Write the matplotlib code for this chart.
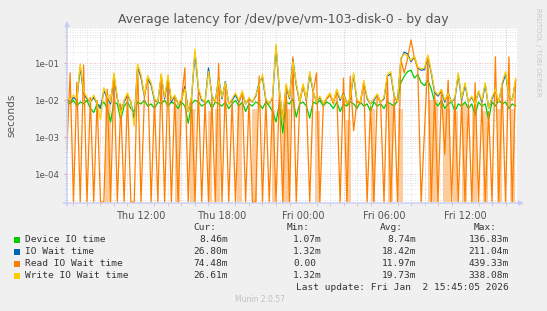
import numpy as np
from matplotlib import pyplot as plt
from matplotlib.patches import Rectangle
from matplotlib.ticker import FixedLocator, NullFormatter

W, H = 547, 311

# --- data (values in ms, one sample every 15 min from Thu 06:30) ---
start_hour = 6.5
step_hour = 0.25

device = [9, 8, 10, 7, 9, 8, 10, 6, 4.7, 8,
          7, 9, 6, 2.6, 9, 8, 3, 7, 9, 6,
          5, 9, 8, 10, 7, 8, 6, 9, 8, 10,
          7, 9, 8, 6, 9, 7, 2.4, 8, 10, 9,
          7, 8, 10, 6, 9, 8, 7, 9, 6, 8,
          10, 7, 9, 5, 8, 7, 9, 8, 6, 9,
          7, 5, 2.6, 8, 1.3, 9, 8, 11, 3.5, 8,
          9, 7, 3.3, 9, 8, 10, 7, 9, 8, 6,
          9, 5, 8, 7, 9, 8, 6, 9, 7, 8,
          5, 9, 7, 8, 6, 9, 8, 7, 10, 30,
          45, 60, 65, 40, 50, 30, 25, 35, 20, 9,
          7, 10, 6, 8, 9, 5, 8, 7, 9, 6,
          8, 4, 9, 7, 8, 3, 9, 7, 10, 8,
          9, 6, 8, 7]

iowait = [11, 9, 12, 10, 80, 15, 11, 9, 12, 8,
          6, 18, 12, 8, 45, 11, 5, 9, 14, 9,
          3, 80, 42, 13, 38, 26, 10, 9, 45, 11,
          40, 9, 13, 8, 10, 24, 5, 12, 200, 20,
          10, 9, 75, 13, 9, 40, 11, 32, 8, 10,
          14, 9, 16, 8, 11, 9, 13, 30, 42, 10,
          8, 12, 280, 18, 3, 24, 11, 130, 26, 9,
          25, 10, 52, 17, 9, 12, 8, 11, 14, 9,
          18, 10, 16, 8, 11, 48, 9, 9, 30, 11,
          8, 10, 14, 9, 11, 45, 52, 13, 9, 130,
          200, 180, 110, 150, 75, 65, 68, 150, 55, 16,
          13, 18, 9, 16, 9, 11, 48, 10, 26, 9,
          12, 8, 17, 9, 27, 6, 11, 18, 9, 26,
          52, 13, 10, 35]

read = [0.4, 55, 0, 31, 0, 90, 0, 12, 0, 10,
        0, 0, 20, 0, 50, 0, 8, 0, 14, 0,
        0, 90, 0, 12, 45, 0, 10, 0, 50, 0,
        45, 0, 12, 0, 10, 75, 0, 12, 0, 20,
        0, 10, 0, 12, 0, 100, 0, 25, 0, 10,
        0, 9, 16, 0, 11, 0, 0, 45, 0, 10,
        0, 12, 0, 18, 0, 25, 0, 150, 0, 8,
        25, 10, 0, 16, 55, 0, 7, 11, 14, 8,
        18, 0, 40, 0, 45, 1.5, 10, 8, 30, 0,
        7, 0, 14, 8, 0, 45, 0, 12, 0, 120,
        55, 140, 430, 140, 70, 0, 1.5, 150, 0, 15,
        0, 18, 0.35, 35, 0, 10, 0, 10, 0, 8,
        0, 30, 0, 9, 0, 5, 0, 150, 0, 25,
        0, 150, 0, 35]

write = [12, 10, 14, 11, 95, 18, 12, 9, 14, 8,
         3, 22, 13, 9, 55, 12, 4, 10, 16, 9,
         2, 95, 50, 14, 45, 30, 11, 9, 52, 12,
         48, 10, 14, 8, 11, 20, 5, 13, 240, 22,
         11, 9, 60, 14, 9, 35, 12, 30, 8, 11,
         16, 10, 18, 8, 12, 9, 14, 25, 50, 11,
         8, 13, 330, 20, 3, 28, 12, 110, 30, 9,
         28, 11, 60, 18, 9, 13, 8, 12, 16, 9,
         20, 11, 14, 8, 12, 55, 10, 9, 35, 12,
         8, 11, 15, 9, 12, 50, 60, 14, 9, 140,
         180, 150, 120, 160, 80, 70, 75, 170, 60, 18,
         14, 20, 10, 15, 9, 12, 55, 11, 30, 9,
         13, 8, 18, 10, 30, 6, 12, 20, 9, 30,
         60, 14, 10, 40]

# spans (hours) where the read line flickers to zero too fast to resolve
read_haze = [(9.33, 9.78), (14.52, 14.89), (15.63, 16.0), (16.96, 17.26),
             (17.48, 17.85), (19.11, 19.48), (20.22, 20.59), (21.70, 21.93),
             (22.44, 23.04), (24.89, 25.26), (27.19, 27.56), (29.04, 29.33),
             (30.30, 30.67), (31.04, 31.41), (33.26, 34.0), (34.37, 34.89),
             (35.11, 35.48), (35.78, 36.15), (36.52, 36.89), (37.33, 37.70),
             (38.37, 38.74), (39.33, 39.70)]
read_haze_top = [15, 8, 6, 5, 6, 8, 6, 5, 6, 5, 3, 6,
                 8, 6, 10, 6, 5, 8, 6, 5, 6, 6]

labels = ["Device IO time", "IO Wait time", "Read IO Wait time", "Write IO Wait time"]
colors = ["#00cc00", "#0066b3", "#ff8000", "#ffcc00"]
cur = ["8.46m", "26.80m", "74.48m", "26.61m"]
mins = ["1.07m", "1.32m", "0.00", "1.32m"]
avgs = ["8.74m", "18.42m", "11.97m", "19.73m"]
maxs = ["136.83m", "211.04m", "439.33m", "338.08m"]

tick_hours = [12, 18, 24, 30, 36]
tick_labels = ["Thu 12:00", "Thu 18:00", "Fri 00:00", "Fri 06:00", "Fri 12:00"]
major_grid_hours = [9, 15, 21, 27, 33, 39]

x_min, x_max = 6.52, 39.85
y_min, y_max = 1.68e-5, 0.9

# --- figure ---
fig = plt.figure(figsize=(W / 100, H / 100), dpi=100, facecolor="#f0f0f0")
ax = fig.add_axes([67 / W, 1 - 203 / H, 450 / W, 175 / H])
ax.set_facecolor("white")
ax.set_yscale("log")
ax.set_xlim(x_min, x_max)
ax.set_ylim(y_min, y_max)

t = start_hour + step_hour * np.arange(len(device))
floor = y_min * 1.06


def to_sec(vals):
    arr = np.array(vals, dtype=float) / 1000.0
    return np.where(arr > 0, arr, floor)


for (a, b), top in zip(read_haze, read_haze_top):
    ax.fill_between([a, b], floor, top / 1000.0, color="#ffcc99", lw=0, zorder=1.5)

for vals, c in zip([device, iowait, read, write], colors):
    ax.plot(t, to_sec(vals), color=c, lw=0.9, zorder=3)

# grid
grid_ls = (0, (1, 2))
ax.yaxis.set_major_locator(FixedLocator([1e-4, 1e-3, 1e-2, 1e-1]))
ax.yaxis.set_minor_locator(FixedLocator(
    [k * 10.0 ** d for d in range(-5, 0) for k in range(2, 10)]))
ax.yaxis.set_minor_formatter(NullFormatter())
ax.set_yticklabels(["1e-04", "1e-03", "1e-02", "1e-01"])
ax.set_xticks(tick_hours)
ax.set_xticklabels(tick_labels)
ax.set_xticks(np.arange(7, 40), minor=True)

ax.grid(which="minor", color="#d8d8d8", ls=grid_ls, lw=0.6, zorder=0)
ax.grid(which="major", axis="y", color="#e8a0a0", ls=grid_ls, lw=0.6, zorder=0.5)
for h in major_grid_hours:
    ax.axvline(h, color="#e8a0a0", ls=grid_ls, lw=0.6, zorder=0.5)

ax.tick_params(axis="x", which="major", length=0, pad=6, labelsize=7, labelcolor="#555555")
ax.tick_params(axis="x", which="minor", length=2, color="#c8c8c8", width=0.6)
ax.tick_params(axis="y", which="major", length=2, color="#e8a0a0", pad=4,
               labelsize=6.2, labelcolor="#555555")
ax.tick_params(axis="y", which="minor", length=1.5, color="#c8c8c8", width=0.6)
for s in ax.spines.values():
    s.set_visible(False)

axis_col = "#c8ccf4"
ax.annotate("", xy=(524 / W, 1 - 203 / H), xytext=(63 / W, 1 - 203 / H),
            xycoords="figure fraction",
            arrowprops=dict(arrowstyle="-|>", color=axis_col, lw=1,
                            mutation_scale=7, shrinkA=0, shrinkB=0))
ax.annotate("", xy=(67 / W, 1 - 21 / H), xytext=(67 / W, 1 - 206 / H),
            xycoords="figure fraction",
            arrowprops=dict(arrowstyle="-|>", color=axis_col, lw=1,
                            mutation_scale=7, shrinkA=0, shrinkB=0))


def px(x, y):
    return x / W, 1 - y / H


fig.text(*px(283, 19), "Average latency for /dev/pve/vm-103-disk-0 - by day",
         ha="center", va="center", fontsize=9, color="#555555")
fig.text(*px(11, 115), "seconds", rotation=90, ha="center", va="center",
         fontsize=7.6, color="#555555")
fig.text(*px(538, 52), "RRDTOOL / TOBI OETIKER", rotation=270, ha="center",
         va="center", fontsize=5, color="#c8c8c8")

mono = dict(family="DejaVu Sans Mono", fontsize=6.8, color="#333333", va="center")
char_w = 5.7
header_y = 227.5
for txt, xr in zip(["Cur:", "Min:", "Avg:", "Max:"], [216, 310, 403, 497]):
    fig.text(*px(xr, header_y), txt, ha="right", **mono)

row_y = [240, 252, 264, 275.5]
for i, lab in enumerate(labels):
    y = row_y[i]
    fig.add_artist(Rectangle(px(13.5, y + 3), 6 / W, 6 / H, transform=fig.transFigure,
                             facecolor=colors[i], edgecolor="none"))
    fig.text(*px(25, y), lab, ha="left", **mono)
    for col, xr in zip([cur, mins, avgs, maxs], [228, 322, 416, 509]):
        s = col[i]
        xx = xr if s.endswith("m") else xr - char_w
        fig.text(*px(xx, y), s, ha="right", **mono)

fig.text(*px(509, 288), "Last update: Fri Jan  2 15:45:05 2026", ha="right", **mono)
fig.text(*px(260, 300), "Munin 2.0.57", ha="center", va="center", fontsize=5.5,
         color="#c0c0c0")

fig.savefig("out.png", dpi=100, facecolor=fig.get_facecolor())
